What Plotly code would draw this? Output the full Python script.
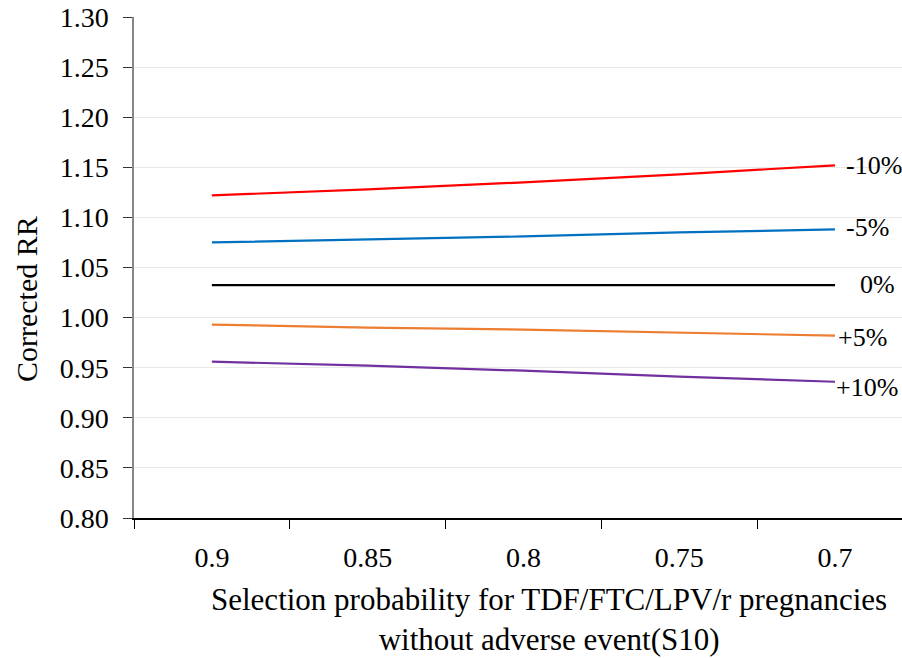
import plotly.graph_objects as go

categories = ["0.9", "0.85", "0.8", "0.75", "0.7"]
series_names = ["-10%", "-5%", "0%", "+5%", "+10%"]
red_vals = [1.122, 1.128, 1.135, 1.143, 1.152]
blue_vals = [1.075, 1.078, 1.081, 1.085, 1.088]
black_vals = [1.0325, 1.0325, 1.0325, 1.0325, 1.0325]
orange_vals = [0.993, 0.990, 0.988, 0.985, 0.982]
purple_vals = [0.956, 0.952, 0.947, 0.941, 0.936]
y_ticks = [0.80, 0.85, 0.90, 0.95, 1.00, 1.05, 1.10, 1.15, 1.20, 1.25, 1.30]

all_vals = [red_vals, blue_vals, black_vals, orange_vals, purple_vals]
colors = ["#FF0000", "#0070C0", "#000000", "#ED7D31", "#7030A0"]

FONT = "Liberation Serif, Times New Roman, serif"

fig = go.Figure()
for name, vals, col in zip(series_names, all_vals, colors):
    fig.add_trace(go.Scatter(x=categories, y=vals, mode="lines", name=name,
                             line=dict(color=col, width=2.2), showlegend=False))

# end labels (label y position in pixels, left pixel offset)
label_info = [("-10%", 165, 844), ("-5%", 227, 844), ("0%", 285, 858),
              ("+5%", 337, 836), ("+10%", 387, 834)]
L, T, B = 134, 17, 518
for txt, ypix, xpix in label_info:
    fig.add_annotation(x=(xpix - L) / (902 - L), y=(B - ypix) / (B - T), xref="paper", yref="paper",
                       text=txt, showarrow=False, xanchor="left", yanchor="middle",
                       font=dict(family=FONT, size=26, color="#000000"))

# axis titles
fig.add_annotation(x=(549 - L) / (902 - L), y=(B - 619) / (B - T), xref="paper", yref="paper",
                   text="Selection probability for TDF/FTC/LPV/r pregnancies<br>without adverse event(S10)",
                   showarrow=False, xanchor="center", yanchor="middle",
                   font=dict(family=FONT, size=31, color="#000000"))
fig.add_annotation(x=(26 - L) / (902 - L), y=(B - 299) / (B - T), xref="paper", yref="paper",
                   text="Corrected RR", textangle=-90, showarrow=False,
                   xanchor="center", yanchor="middle",
                   font=dict(family=FONT, size=30, color="#000000"))

fig.update_layout(
    template="none",
    width=902, height=658,
    margin=dict(l=L, r=0, t=T, b=658 - B),
    paper_bgcolor="white", plot_bgcolor="white",
    font=dict(family=FONT, size=28, color="#000000"),
    xaxis=dict(type="category", range=[-0.5, 4.43], tickson="boundaries",
               ticks="outside", ticklen=9, tickcolor="#000000", tickwidth=1.3,
               showline=True, linecolor="#000000", linewidth=1.5,
               showgrid=False, zeroline=False, ticklabelstandoff=14,
               tickfont=dict(family=FONT, size=28, color="#000000")),
    yaxis=dict(range=[0.80, 1.30], tickvals=y_ticks, ticktext=[f"{v:.2f}" for v in y_ticks],
               ticks="outside", ticklen=9, tickcolor="#333333", tickwidth=1.3,
               showline=True, linecolor="#868686", linewidth=1.5,
               showgrid=True, gridcolor="#E8E8E8", gridwidth=1.2, zeroline=False,
               ticklabelstandoff=9, tickfont=dict(family=FONT, size=28, color="#000000")),
)

fig.write_html("out.html")
